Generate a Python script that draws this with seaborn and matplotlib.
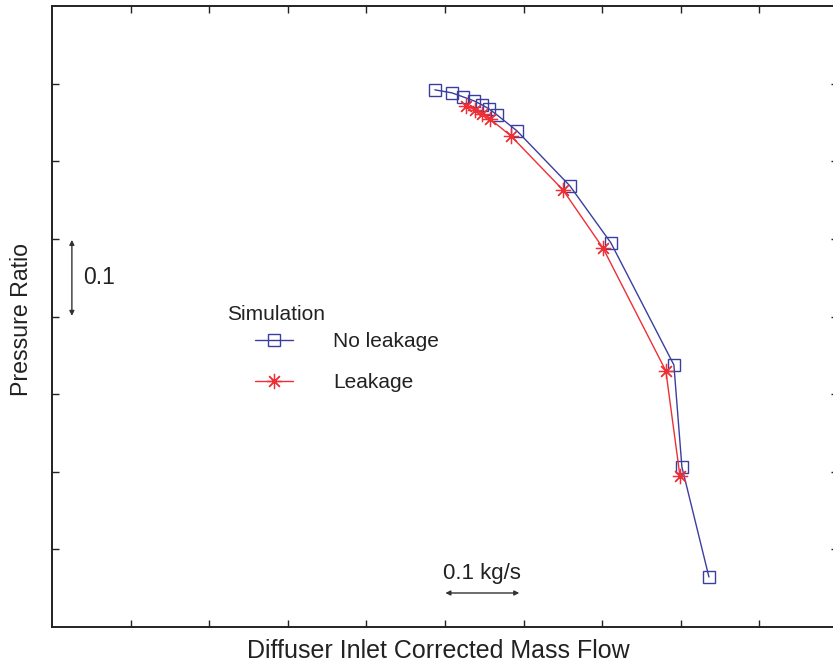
import matplotlib
matplotlib.use("Agg")
import matplotlib.pyplot as plt
import seaborn as sns
import pandas as pd

# Compressor map: diffuser inlet corrected mass flow [kg/s] vs pressure ratio
no_leak_flow = [1.4871, 1.5088, 1.5228, 1.5368, 1.5470, 1.5559, 1.5660,
                1.5915, 1.6589, 1.7111, 1.7912, 1.8014, 1.8358]
no_leak_pr = [2.2920, 2.2881, 2.2830, 2.2778, 2.2727, 2.2675, 2.2598,
              2.2392, 2.1683, 2.0948, 1.9376, 1.8062, 1.6644]

leak_flow = [1.5266, 1.5380, 1.5470, 1.5571, 1.5838, 1.6500, 1.7009,
             1.7810, 1.7989]
leak_pr = [2.2714, 2.2662, 2.2611, 2.2546, 2.2327, 2.1631, 2.0884,
           1.9299, 1.7946]

x_ticks = [1.1, 1.2, 1.3, 1.4, 1.5, 1.6, 1.7, 1.8, 1.9]
y_ticks = [1.7, 1.8, 1.9, 2.0, 2.1, 2.2, 2.3]

blue = "#3a3f9f"
red = "#ee2f36"
ink = "#222222"

sns.set_theme(style="ticks")
plt.rcParams["font.family"] = ["Liberation Sans", "DejaVu Sans"]

df_nl = pd.DataFrame({"flow": no_leak_flow, "pr": no_leak_pr})
df_l = pd.DataFrame({"flow": leak_flow, "pr": leak_pr})

fig = plt.figure(figsize=(8.33, 6.63), dpi=100)
ax = fig.add_axes([52 / 833, 36 / 663, 786 / 833, 621 / 663])

sns.lineplot(data=df_nl, x="flow", y="pr", sort=False, ax=ax, color=blue,
             marker="s", markersize=8, markerfacecolor="none",
             markeredgecolor=blue, markeredgewidth=1.0, linewidth=1.0,
             label="No leakage")
sns.lineplot(data=df_l, x="flow", y="pr", sort=False, ax=ax, color=red,
             marker=(8, 2, 0), markersize=11, markerfacecolor=red,
             markeredgecolor=red, markeredgewidth=0.9, linewidth=1.0,
             label="Leakage")

ax.set_xlim(1.0, 2.0)
ax.set_ylim(1.6, 2.4)
ax.set_xticks(x_ticks)
ax.set_yticks(y_ticks)
ax.tick_params(direction="in", length=5, width=1.0, color=ink,
               top=True, right=True, labelbottom=False, labelleft=False)
for side in ["left", "bottom", "top", "right"]:
    ax.spines[side].set_visible(True)
    ax.spines[side].set_color(ink)
    ax.spines[side].set_linewidth(1.4)

ax.set_xlabel("Diffuser Inlet Corrected Mass Flow", fontsize=18, color=ink)
ax.xaxis.label.set_va("center")
ax.xaxis.set_label_coords((438.5 - 52) / 786, (627 - 651) / 621)
ax.set_ylabel("Pressure Ratio", fontsize=16.7, color=ink)
ax.yaxis.label.set_va("center")
ax.yaxis.set_label_coords((22 - 52) / 786, (627 - 319) / 621)

# Scale bars
ax.annotate("", xy=(1.0253, 2.0987), xytext=(1.0253, 2.0008),
            arrowprops=dict(arrowstyle="<|-|>", color="#333333", lw=1.0,
                            mutation_scale=7, shrinkA=0, shrinkB=0))
ax.text(1.039, 2.0497, "0.1", fontsize=16.5, color=ink,
        ha="left", va="center")
ax.annotate("", xy=(1.5005, 1.6438), xytext=(1.5945, 1.6438),
            arrowprops=dict(arrowstyle="<|-|>", color="#333333", lw=1.0,
                            mutation_scale=7, shrinkA=0, shrinkB=0))
ax.text(1.5475, 1.6695, "0.1 kg/s", fontsize=16, color=ink,
        ha="center", va="center")

# Legend
ax.text((227 - 52) / 786, (627 - 315) / 621, "Simulation",
        transform=ax.transAxes, fontsize=15, color=ink,
        ha="left", va="center")
leg = ax.legend(loc="upper left",
                bbox_to_anchor=((255 - 52) / 786, (627 - 332) / 621),
                frameon=False, fontsize=15, handlelength=1.83,
                handletextpad=1.92, labelspacing=1.07, borderaxespad=0,
                borderpad=0)
for t in leg.get_texts():
    t.set_color(ink)

fig.savefig("out.png", dpi=100)
